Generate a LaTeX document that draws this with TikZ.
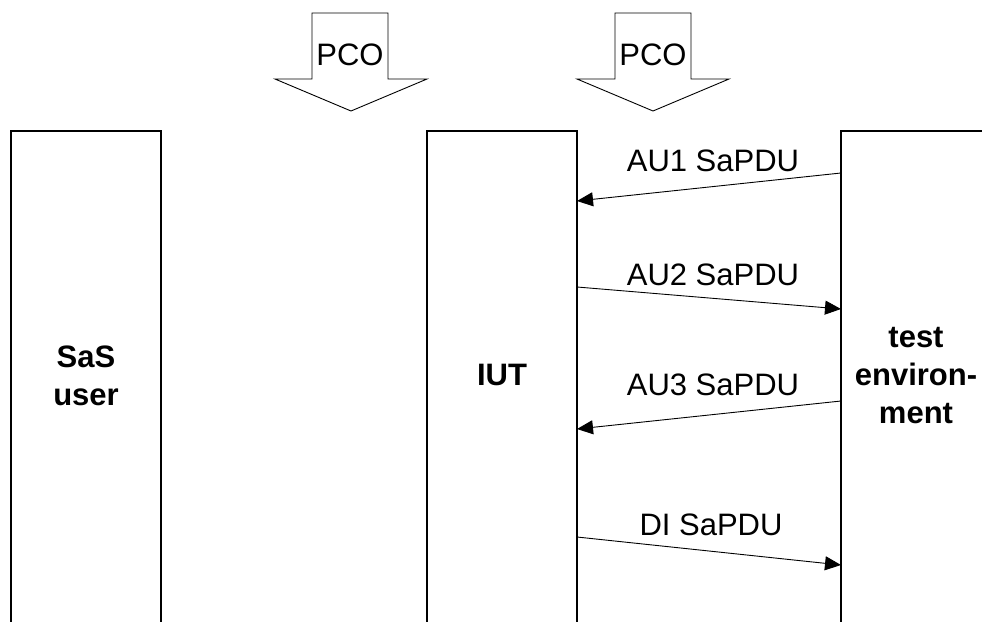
\documentclass[tikz,border=0pt]{standalone}
\usepackage{fontspec}
\setmainfont{Liberation Sans}
\usetikzlibrary{arrows.meta}
\begin{document}
\begin{tikzpicture}[x=1pt,y=-1pt,
  lifebox/.style={line width=1.2pt,draw=black},
  pcoarrow/.style={line width=0.9pt,draw=black},
  msg/.style={line width=0.9pt,-{Triangle[length=16pt,width=14pt]}},
  lbl/.style={inner sep=0pt,anchor=base,font=\fontsize{31}{38}\selectfont},
  blbl/.style={inner sep=0pt,anchor=base,align=center,font=\fontsize{31}{38}\selectfont\bfseries}]
\useasboundingbox (0,0) rectangle (982,621);
% PCO arrows
\draw[pcoarrow] (275,79) -- (312,79) -- (312,13) -- (388,13) -- (388,79) -- (427,79) -- (351,111) -- cycle;
\draw[pcoarrow] (577,79) -- (615,79) -- (615,13) -- (691,13) -- (691,79) -- (729,79) -- (653,111) -- cycle;
\node[lbl] (pco1) at (350,65) {PCO};
\node[lbl] (pco2) at (653,65) {PCO};
% lifeline boxes
\draw[lifebox] (11,640) -- (11,131) -- (161,131) -- (161,640);
\draw[lifebox] (427,640) -- (427,131) -- (577,131) -- (577,640);
\draw[lifebox] (841,640) -- (841,131) -- (991,131) -- (991,640);
\node[blbl] (sas) at (86,405) {SaS\\user};
\node[blbl] (iut) at (502,385) {IUT};
\node[blbl] (env) at (916,423) {test\\environ-\\ment};
% message end points
\coordinate (e1) at (841,173); \coordinate (i1) at (577,201);
\coordinate (i2) at (577,287); \coordinate (e2) at (841,309);
\coordinate (e3) at (841,401); \coordinate (i3) at (577,429);
\coordinate (i4) at (577,537); \coordinate (e4) at (841,565);
\draw[msg] (e1) -- (i1);
\draw[msg] (i2) -- (e2);
\draw[msg] (e3) -- (i3);
\draw[msg] (i4) -- (e4);
\node[lbl] (m1) at (713,171) {AU1 SaPDU};
\node[lbl] (m2) at (713,285) {AU2 SaPDU};
\node[lbl] (m3) at (713,395) {AU3 SaPDU};
\node[lbl] (m4) at (711,535) {DI SaPDU};
\end{tikzpicture}
\end{document}
